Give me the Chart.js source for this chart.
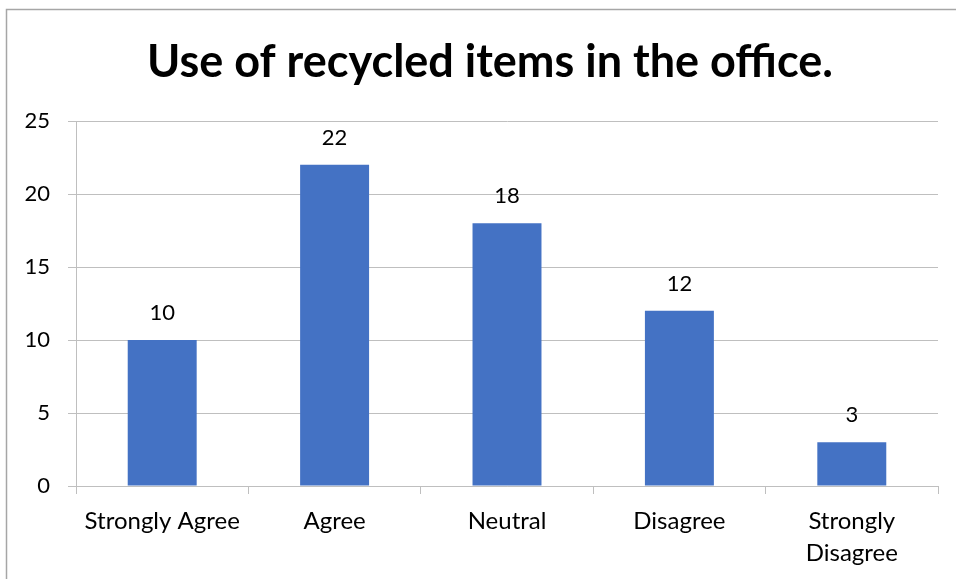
<!DOCTYPE html>
<html>
<head>
<meta charset="utf-8">
<script src="https://cdn.jsdelivr.net/npm/chart.js@4/dist/chart.umd.min.js"></script>
<style>
  html, body { margin: 0; padding: 0; background: #fff; }
  #wrap { width: 956px; height: 579px; position: relative; }
</style>
</head>
<body>
<div id="wrap"><canvas id="chart" width="956" height="579"></canvas></div>
<script>
const categories = ["Strongly Agree", "Agree", "Neutral", "Disagree", ["Strongly", "Disagree"]];
const responses = [10, 22, 18, 12, 3];
const yTicks = [0, 5, 10, 15, 20, 25];

const barColor = "#4472C4";
const gridColor = "#bfbfbf";
const fontFamily = "Lato, 'Open Sans', sans-serif";

// frame lines on top and left, like the original chart border
const framePlugin = {
  id: "frame",
  beforeDraw(chart) {
    const ctx = chart.ctx;
    ctx.save();
    ctx.fillStyle = "#fff";
    ctx.fillRect(0, 0, chart.width, chart.height);
    ctx.strokeStyle = "#a6a6a6";
    ctx.lineWidth = 1.5;
    ctx.beginPath();
    ctx.moveTo(6.5, chart.height);
    ctx.lineTo(6.5, 9.5);
    ctx.lineTo(chart.width, 9.5);
    ctx.stroke();
    ctx.restore();
  },
  // title sits a bit right of the layout centre in the original
  afterLayout(chart) {
    const t = chart.titleBlock;
    if (t) {
      t.left += 18;
      t.right += 18;
    }
  },
};

// value labels above each bar
const valueLabels = {
  id: "valueLabels",
  afterDatasetsDraw(chart) {
    const ctx = chart.ctx;
    const meta = chart.getDatasetMeta(0);
    ctx.save();
    ctx.font = "22px " + fontFamily;
    ctx.fillStyle = "#000";
    ctx.textAlign = "center";
    ctx.textBaseline = "middle";
    meta.data.forEach((bar, i) => {
      ctx.fillText(String(responses[i]), bar.x, bar.y - 27);
    });
    ctx.restore();
  },
};

new Chart(document.querySelector("#chart"), {
  type: "bar",
  data: {
    labels: categories,
    datasets: [
      {
        data: responses,
        backgroundColor: barColor,
        borderWidth: 0,
        barPercentage: 0.4,
        categoryPercentage: 1,
      },
    ],
  },
  options: {
    responsive: false,
    animation: false,
    events: [],
    layout: { padding: { left: 6, right: 18, top: 9, bottom: 0 } },
    plugins: {
      legend: { display: false },
      tooltip: { enabled: false },
      title: {
        display: true,
        text: "Use of recycled items in the office.",
        color: "#000",
        font: { family: fontFamily, size: 45, weight: "bold", lineHeight: 1.2 },
        padding: { top: 26, bottom: 32 },
      },
    },
    scales: {
      x: {
        grid: {
          offset: true,
          drawOnChartArea: false,
          drawTicks: true,
          tickLength: 8,
          color: gridColor,
        },
        border: { display: true, color: gridColor, width: 1 },
        ticks: {
          color: "#000",
          font: { family: fontFamily, size: 24, lineHeight: 1.33 },
          padding: 11,
          maxRotation: 0,
          autoSkip: false,
        },
        afterFit(scale) {
          scale.height = 93;
        },
      },
      y: {
        min: 0,
        max: 25,
        afterBuildTicks(scale) {
          scale.ticks = yTicks.map((v) => ({ value: v }));
        },
        grid: {
          color: gridColor,
          drawTicks: true,
          tickLength: 8,
        },
        border: { display: true, color: gridColor, width: 1 },
        ticks: {
          color: "#000",
          font: { family: fontFamily, size: 22 },
          padding: 18,
        },
        afterFit(scale) {
          scale.width = 70;
        },
      },
    },
  },
  plugins: [framePlugin, valueLabels],
});
</script>
</body>
</html>
